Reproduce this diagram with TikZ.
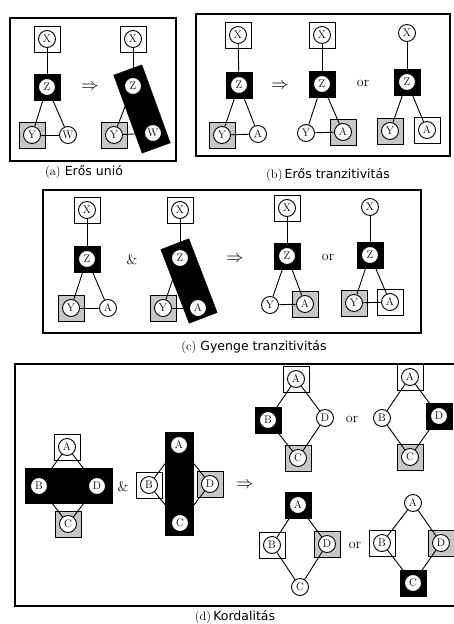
\documentclass[tikz,border=0pt]{standalone}
\usepackage{fontspec}
\newfontfamily\capfont{DejaVu Sans}
\tikzset{
 cn/.style={circle,draw,fill=white,minimum size=17pt,inner sep=0pt,font=\fontsize{11}{11}\selectfont,line width=0.9pt},
 wb/.style={rectangle,draw,fill=white,minimum size=26pt,inner sep=0pt,line width=0.9pt},
 gb/.style={wb,fill=black!22},
 bb/.style={wb,fill=black},
 bar/.style={rectangle,fill=black,draw=black,inner sep=0pt},
 ed/.style={line width=0.9pt},
 frm/.style={line width=1.1pt},
 sym/.style={font=\fontsize{14}{14}\selectfont},
 imp/.style={font=\fontsize{17}{17}\selectfont},
 captxt/.style={font=\fontsize{12.5}{12.5}\selectfont}
}
\newcommand\vb[5]{\node[#5] (#1b) at (#2,#3) {}; \node[cn] (#1) at (#2,#3) {#4};}
\newcommand\vn[4]{\node[cn] (#1) at (#2,#3) {#4};}
\newcommand\edg[2]{\draw[ed] (#1) -- (#2);}
\begin{document}
\begin{tikzpicture}[x=1pt,y=-1pt]
\useasboundingbox (0,0) rectangle (454,624);
% frames
\node[draw,frm,minimum width=166pt,minimum height=143pt,inner sep=0pt] (fa) at (93,89.5) {};
\node[draw,frm,minimum width=254pt,minimum height=142pt,inner sep=0pt] (fb) at (323,85) {};
\node[draw,frm,minimum width=378pt,minimum height=143pt,inner sep=0pt] (fc) at (232,261.5) {};
\coordinate (fd1) at (454,364);
\coordinate (fd2) at (15,364);
\coordinate (fd3) at (15,606);
\coordinate (fd4) at (454,606);
\draw[frm] (fd1) -- (fd2) -- (fd3) -- (fd4);
% ---------- (a) ----------
\vb{aX}{47}{39}{X}{wb}
\vb{aZ}{47}{87}{Z}{bb}
\vb{aY}{32}{135}{Y}{gb}
\vn{aW}{68}{135}{W}
\edg{aX}{aZ}\edg{aZ}{aY}\edg{aZ}{aW}\edg{aY}{aW}
\node[imp] (aimp) at (90,87) {$\Rightarrow$};
\vb{a2X}{133}{39}{X}{wb}
\vb{a2Y}{114}{135}{Y}{gb}
\node[bar,minimum width=30pt,minimum height=83pt,rotate=20] (a2bar) at (142,109) {};
\vn{a2Z}{133}{86}{Z}
\vn{a2W}{153}{133}{W}
\edg{a2X}{a2Z}\edg{a2Z}{a2Y}\edg{a2Z}{a2W}\edg{a2Y}{a2W}
\node[captxt] (capa) at (84,172) {(a) {\capfont Erős unió}};
% ---------- (b) ----------
\vb{b1X}{238}{35}{X}{wb}
\vb{b1Z}{239}{85}{Z}{bb}
\vb{b1Y}{222}{135}{Y}{gb}
\vn{b1A}{258}{134}{A}
\edg{b1X}{b1Z}\edg{b1Z}{b1Y}\edg{b1Z}{b1A}\edg{b1Y}{b1A}
\node[imp] (bimp) at (280,86) {$\Rightarrow$};
\vb{b2X}{322}{35}{X}{wb}
\vb{b2Z}{322}{84}{Z}{bb}
\vn{b2Y}{306}{133}{Y}
\vb{b2A}{343}{132}{A}{gb}
\edg{b2X}{b2Z}\edg{b2Z}{b2Y}\edg{b2Z}{b2A}\edg{b2Y}{b2A}
\node[sym] (bor) at (363,83) {or};
\vn{b3X}{407}{33}{X}
\vb{b3Z}{407}{82}{Z}{bb}
\vb{b3Y}{390}{131}{Y}{gb}
\vb{b3A}{427}{130}{A}{wb}
\edg{b3X}{b3Z}\edg{b3Z}{b3Y}\edg{b3Z}{b3A}
\node[captxt] (capb) at (328,175) {(b)\,{\capfont Erős tranzitivitás}};
% ---------- (c) ----------
\vb{c1X}{87}{210}{X}{wb}
\vb{c1Z}{87}{259}{Z}{bb}
\vb{c1Y}{71}{308}{Y}{gb}
\vn{c1A}{108}{308}{A}
\edg{c1X}{c1Z}\edg{c1Z}{c1Y}\edg{c1Z}{c1A}\edg{c1Y}{c1A}
\node[sym] (cand) at (132,260) {\&};
\vb{c2X}{180}{210}{X}{wb}
\vb{c2Y}{163}{308}{Y}{gb}
\node[bar,minimum width=30pt,minimum height=79pt,rotate=21] (c2bar) at (189,281) {};
\vn{c2Z}{180}{258}{Z}
\vn{c2A}{198}{308}{A}
\edg{c2X}{c2Z}\edg{c2Z}{c2Y}\edg{c2Z}{c2A}\edg{c2Y}{c2A}
\node[imp] (cimp) at (235,259) {$\Rightarrow$};
\vb{c3X}{287}{208}{X}{wb}
\vb{c3Z}{287}{256}{Z}{bb}
\vn{c3Y}{270}{305}{Y}
\vb{c3A}{305}{304}{A}{gb}
\edg{c3X}{c3Z}\edg{c3Z}{c3Y}\edg{c3Z}{c3A}\edg{c3Y}{c3A}
\node[sym] (cor) at (328,257) {or};
\vn{c4X}{370}{207}{X}
\vb{c4Z}{370}{255}{Z}{bb}
\vb{c4Y}{354}{303}{Y}{gb}
\vb{c4A}{390}{302}{A}{wb}
\edg{c4X}{c4Z}\edg{c4Z}{c4Y}\edg{c4Z}{c4A}\edg{c4Y}{c4A}
\node[captxt] (capc) at (254,347) {(c) {\capfont Gyenge tranzitivitás}};
% ---------- (d) ----------
\vb{d1A}{67}{447}{A}{wb}
\vb{d1C}{68}{524}{C}{gb}
\node[bar,minimum width=87pt,minimum height=35pt] (d1bar) at (68.5,485.5) {};
\vn{d1B}{39}{486}{B}
\vn{d1D}{97}{486}{D}
\edg{d1A}{d1B}\edg{d1A}{d1D}\edg{d1B}{d1C}\edg{d1D}{d1C}
\node[sym] (dand) at (123,487) {\&};
\vb{d2B}{149}{485}{B}{wb}
\vb{d2D}{210}{484}{D}{gb}
\node[bar,minimum width=28pt,minimum height=103pt] (d2bar) at (179,483.5) {};
\vn{d2A}{179}{445}{A}
\vn{d2C}{180}{523}{C}
\edg{d2A}{d2B}\edg{d2A}{d2D}\edg{d2B}{d2C}\edg{d2D}{d2C}
\node[imp] (dimp) at (245,485) {$\Rightarrow$};
\vb{d3A}{296}{379}{A}{wb}
\vb{d3B}{268}{420}{B}{bb}
\vn{d3D}{325}{418}{D}
\vb{d3C}{298}{458}{C}{gb}
\edg{d3A}{d3B}\edg{d3A}{d3D}\edg{d3B}{d3C}\edg{d3D}{d3C}
\node[sym] (dor1) at (352,419) {or};
\vb{d4A}{410}{377}{A}{wb}
\vn{d4B}{382}{418}{B}
\vb{d4D}{439}{416}{D}{bb}
\vb{d4C}{410}{457}{C}{gb}
\edg{d4A}{d4B}\edg{d4A}{d4D}\edg{d4B}{d4C}\edg{d4D}{d4C}
\vb{d5A}{298}{505}{A}{bb}
\vb{d5B}{272}{545}{B}{wb}
\vb{d5D}{327}{544}{D}{gb}
\vn{d5C}{300}{587}{C}
\edg{d5A}{d5B}\edg{d5A}{d5D}\edg{d5B}{d5C}\edg{d5D}{d5C}
\node[sym] (dor2) at (355,545) {or};
\vn{d6A}{413}{503}{A}
\vb{d6B}{382}{543}{B}{wb}
\vb{d6D}{441}{543}{D}{gb}
\vb{d6C}{413}{583}{C}{bb}
\edg{d6A}{d6B}\edg{d6A}{d6D}\edg{d6B}{d6C}\edg{d6D}{d6C}
\node[captxt] (capd) at (235,617) {(d)\,{\capfont Kordalitás}};
\end{tikzpicture}
\end{document}
